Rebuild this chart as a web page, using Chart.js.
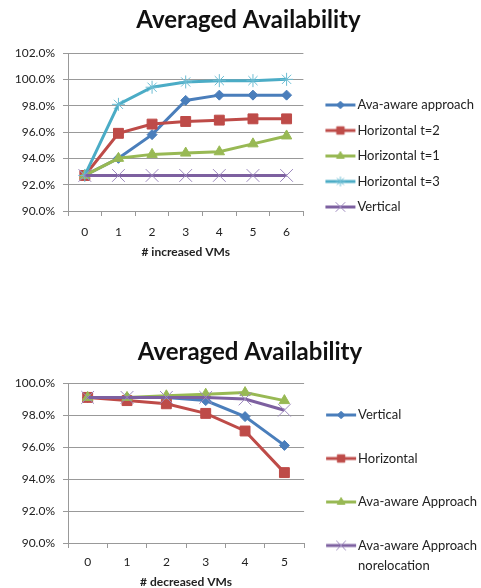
<!DOCTYPE html>
<html>
<head>
<meta charset="utf-8">
<script src="https://cdn.jsdelivr.net/npm/chart.js@4.4.1/dist/chart.umd.min.js"></script>
<style>
  html, body { margin: 0; padding: 0; background: #fff; overflow: hidden; }
  .box { position: absolute; left: 0; width: 481px; }
  #top { top: 0; }
  #bottom { top: 330px; }
</style>
</head>
<body>
<div class="box" id="top"><canvas id="chartUp" width="481" height="259"></canvas></div>
<div class="box" id="bottom"><canvas id="chartDown" width="481" height="259"></canvas></div>
<script>
// ---- data ----
const upSteps = ["0", "1", "2", "3", "4", "5", "6"];
const upAvaAware = [92.7, 94.0, 95.8, 98.4, 98.8, 98.8, 98.8];
const upHorizT2 = [92.7, 95.9, 96.6, 96.8, 96.9, 97.0, 97.0];
const upHorizT1 = [92.7, 94.0, 94.3, 94.4, 94.5, 95.1, 95.7];
const upHorizT3 = [92.7, 98.1, 99.4, 99.8, 99.9, 99.9, 100.0];
const upVertical = [92.7, 92.7, 92.7, 92.7, 92.7, 92.7, 92.7];
const upNames = ["Ava-aware approach", "Horizontal t=2", "Horizontal t=1", "Horizontal t=3", "Vertical"];

const downSteps = ["0", "1", "2", "3", "4", "5"];
const downVertical = [99.1, 99.1, 99.1, 98.9, 97.9, 96.1];
const downHorizontal = [99.1, 98.9, 98.7, 98.1, 97.0, 94.4];
const downAvaAware = [99.1, 99.1, 99.2, 99.3, 99.4, 98.9];
const downNoReloc = [99.1, 99.1, 99.1, 99.1, 99.0, 98.3];
const downNames = ["Vertical", "Horizontal", "Ava-aware Approach", "Ava-aware Approach\nnorelocation"];

const upTicks = { min: 90, max: 102, step: 2 };
const downTicks = { min: 90, max: 100, step: 2 };

// ---- styles ----
Chart.defaults.font.family = "Lato";
Chart.defaults.color = "#222";

const GRID = "#999999";
const BLUE = { color: "#4a7ebb", mark: "#4a7ebb", style: "rectRot", r: 5, bw: 1 };
const RED = { color: "#be4b48", mark: "#be4b48", style: "rect", r: 7, bw: 1 };
const GREEN = { color: "#98b954", mark: "#98b954", style: "triangle", r: 6, bw: 1 };
const CYAN = { color: "#4bacc6", mark: "#6cbdd3", style: "star", r: 6.5, bw: 1 };
const PURPLE = { color: "#7d60a0", mark: "#9c88bd", style: "crossRot", r: 9, bw: 1 };

function series(label, data, s, i) {
  return {
    label: label,
    data: data,
    borderColor: s.color,
    backgroundColor: s.color,
    borderWidth: 3,
    tension: 0,
    pointStyle: s.style,
    pointRadius: s.r,
    pointBackgroundColor: s.mark,
    pointBorderColor: s.mark,
    pointBorderWidth: s.bw,
    order: -i,
  };
}

// small line + marker picture used as legend symbol
function legendIcon(ds, shift) {
  const c = document.createElement("canvas");
  c.width = 2 * (shift + 16);
  c.height = 16;
  const g = c.getContext("2d");
  const mid = c.width / 2 + shift;
  g.strokeStyle = ds.borderColor;
  g.lineWidth = 3;
  g.beginPath();
  g.moveTo(mid - 15, 8);
  g.lineTo(mid + 15, 8);
  g.stroke();
  g.fillStyle = ds.pointBackgroundColor;
  g.strokeStyle = ds.pointBorderColor;
  g.lineWidth = ds.pointBorderWidth;
  Chart.helpers.drawPoint(g, { pointStyle: ds.pointStyle, radius: ds.pointRadius * 0.75, borderWidth: ds.pointBorderWidth }, mid, 8);
  return c;
}

function makeChart(id, opts) {
  return new Chart(document.getElementById(id), {
    type: "line",
    data: { labels: opts.labels, datasets: opts.datasets },
    options: {
      responsive: false,
      animation: false,
      layout: { padding: { left: 13, right: opts.padRight, top: 0, bottom: 0 } },
      plugins: {
        title: {
          display: true,
          text: "Averaged Availability",
          color: "#111",
          font: { size: 24, weight: "bold" },
          padding: opts.titlePad,
        },
        legend: {
          position: "right",
          align: "start",
          weight: 3000,
          maxWidth: 220,
          title: { display: true, text: "", font: { size: 12, lineHeight: 1.2 }, padding: { top: opts.legendTop, bottom: 0 } },
          labels: {
            usePointStyle: true,
            pointStyleWidth: opts.boxWidth,
            padding: opts.legendPad,
            font: { size: 13, lineHeight: opts.lineHeight },
            generateLabels: (chart) => chart.data.datasets.map((ds, i) => {
              let text = ds.label;
              if (opts.twoLines) {
                text = ds.label.split("\n");
                if (text.length < 2) text.push("");
              }
              return {
                text: text,
                fontColor: "#222",
                pointStyle: legendIcon(ds, opts.shift),
                fillStyle: ds.borderColor,
                strokeStyle: ds.borderColor,
                lineWidth: 0,
                hidden: false,
                datasetIndex: i,
              };
            }),
          },
        },
        tooltip: { enabled: false },
      },
      scales: {
        x: {
          offset: true,
          afterFit: (s) => { s.height = opts.xHeight; },
          grid: { offset: true, drawOnChartArea: false, tickLength: 5, color: GRID },
          border: { color: GRID },
          ticks: { padding: opts.xPad, color: "#222", font: { size: 12 } },
          title: {
            display: true,
            text: opts.xTitle,
            color: "#222",
            font: { size: 12, weight: "bold" },
            padding: { top: 0, bottom: 0 },
          },
        },
        y: {
          min: opts.ticks.min,
          max: opts.ticks.max,
          afterFit: (s) => { s.width = 55; },
          grid: { color: GRID, tickLength: 5 },
          border: { color: GRID },
          ticks: {
            stepSize: opts.ticks.step,
            padding: 8,
            color: "#222",
            font: { size: 12 },
            callback: (v) => v.toFixed(1) + "%",
          },
        },
      },
    },
  });
}

makeChart("chartUp", {
  labels: upSteps,
  datasets: [
    series(upNames[0], upAvaAware, BLUE, 0),
    series(upNames[1], upHorizT2, RED, 1),
    series(upNames[2], upHorizT1, GREEN, 2),
    series(upNames[3], upHorizT3, CYAN, 3),
    series(upNames[4], upVertical, PURPLE, 4),
  ],
  ticks: upTicks,
  xTitle: "# increased VMs",
  titlePad: { top: 5.6, bottom: 18.6 },
  legendTop: 71.6,
  legendPad: 12.5,
  boxWidth: 35,
  shift: 7,
  lineHeight: 1.2,
  twoLines: false,
  padRight: -3,
  xHeight: 48,
  xPad: 9,
});

makeChart("chartDown", {
  labels: downSteps,
  datasets: [
    series(downNames[0], downVertical, BLUE, 0),
    series(downNames[1], downHorizontal, RED, 1),
    series(downNames[2], downAvaAware, GREEN, 2),
    series(downNames[3], downNoReloc, PURPLE, 3),
  ],
  ticks: downTicks,
  xTitle: "# decreased VMs",
  titlePad: { top: 7.6, bottom: 16.6 },
  legendTop: 60.6,
  legendPad: 3.5,
  boxWidth: 44,
  shift: 11.5,
  lineHeight: 20 / 13,
  twoLines: true,
  padRight: -6,
  xHeight: 46,
  xPad: 7,
});
</script>
</body>
</html>
